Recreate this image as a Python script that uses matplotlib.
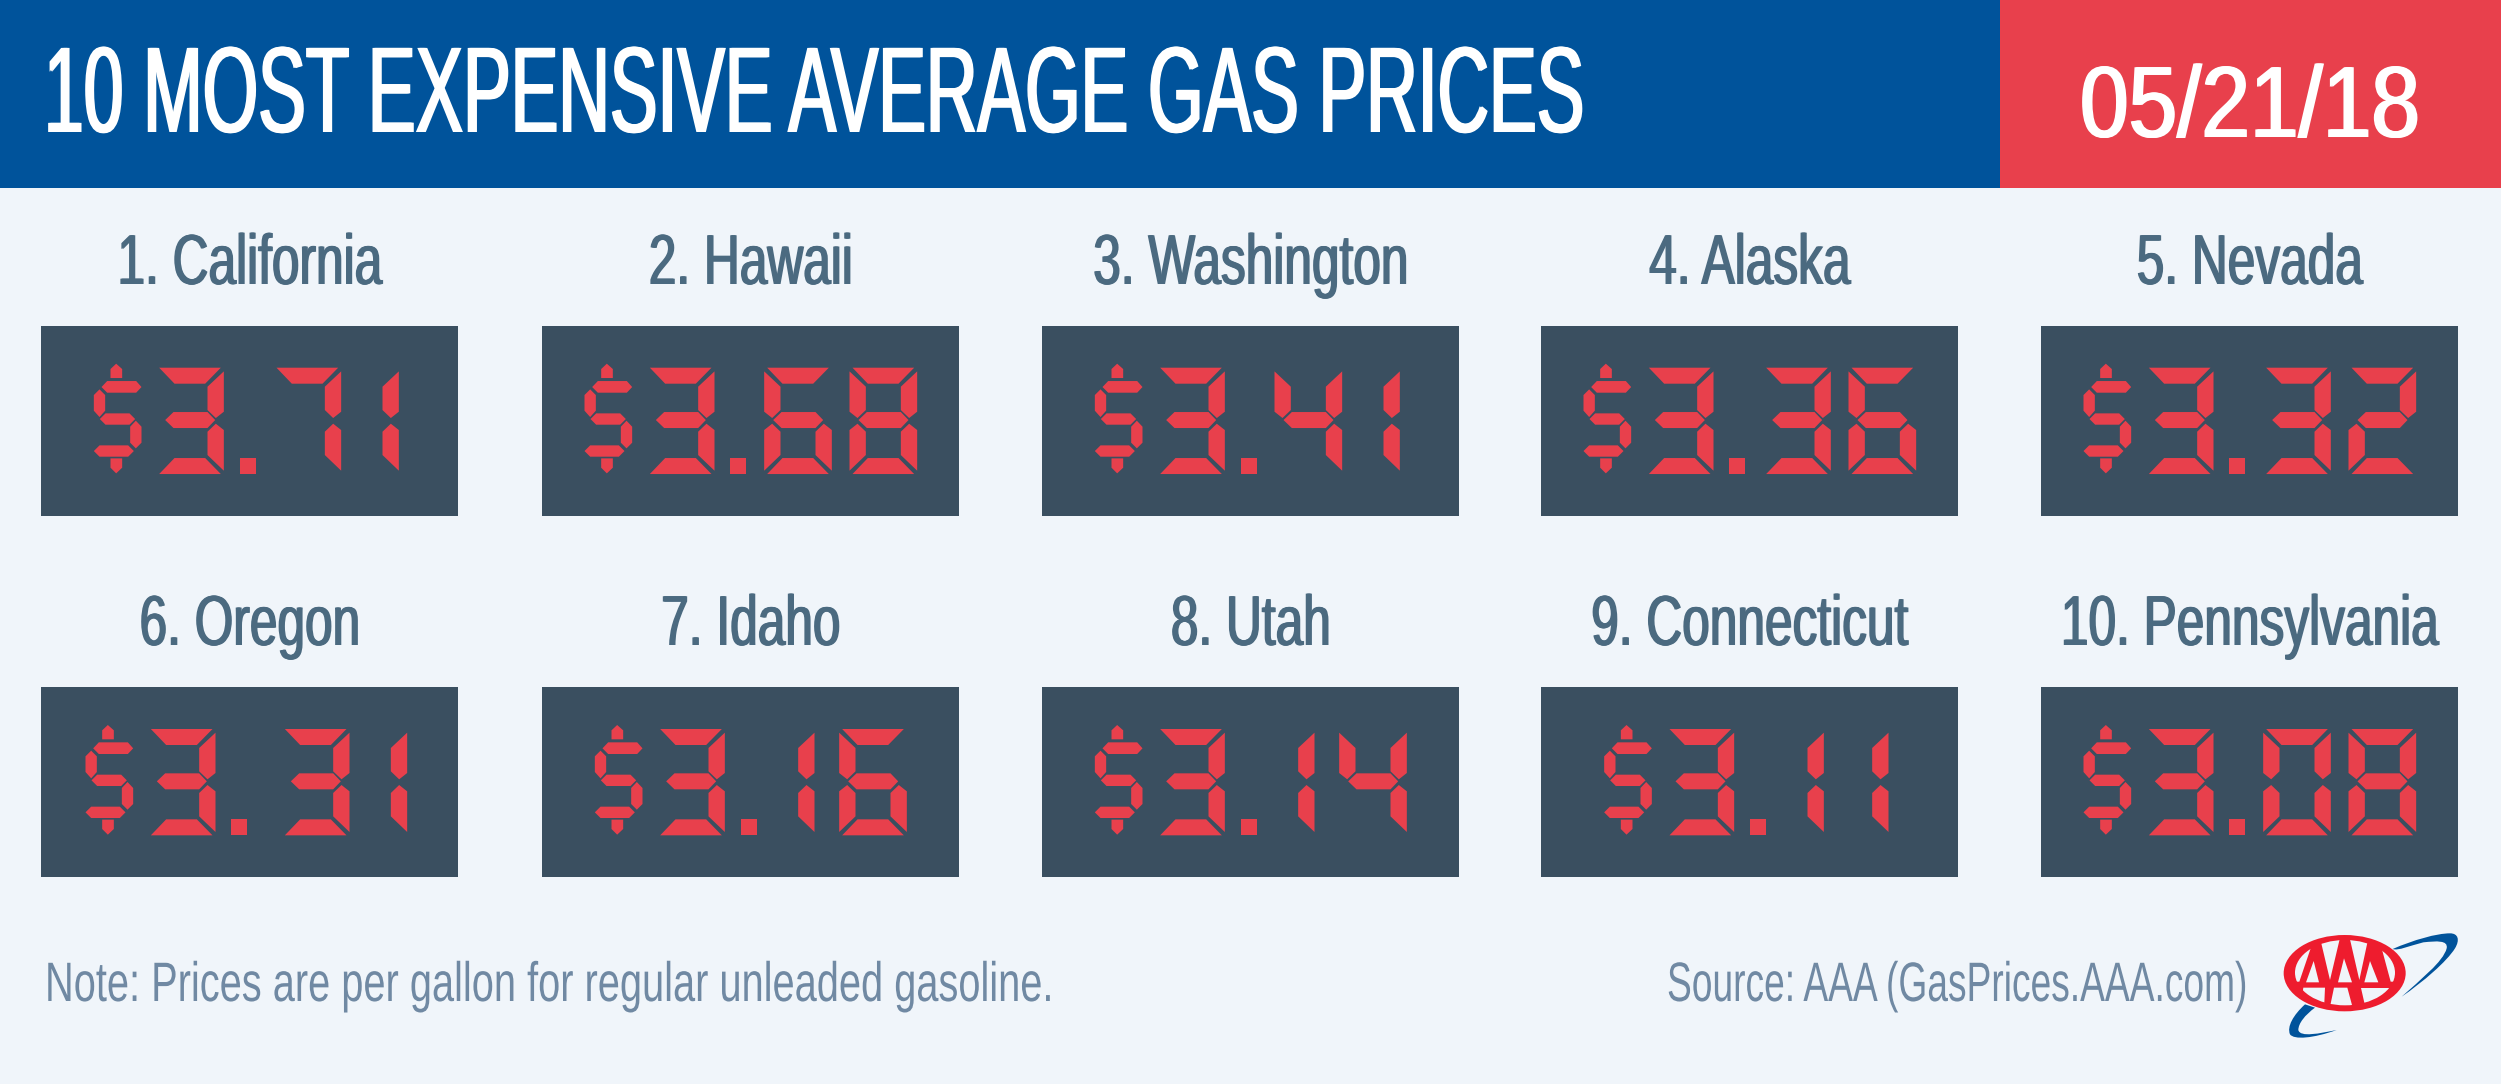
import matplotlib
matplotlib.use('Agg')
import matplotlib.pyplot as plt
from matplotlib.patches import Rectangle, Polygon, Ellipse, PathPatch
from matplotlib.path import Path
from matplotlib.patheffects import AbstractPathEffect
from matplotlib.transforms import Affine2D

title = '10 MOST EXPENSIVE AVERAGE GAS PRICES'
date = '05/21/18'
states = ['California', 'Hawaii', 'Washington', 'Alaska', 'Nevada',
          'Oregon', 'Idaho', 'Utah', 'Connecticut', 'Pennsylvania']
prices = [3.71, 3.68, 3.41, 3.36, 3.32, 3.31, 3.16, 3.14, 3.11, 3.08]
note = 'Note: Prices are per gallon for regular unleaded gasoline.'
source = 'Source: AAA (GasPrices.AAA.com)'

BG = '#F0F5FA'
BLUE = '#00539B'
RED = '#E8404C'
PANEL = '#3A4F60'
CITY = '#4B6A80'
SOFT = '#7089A3'
LOGO_RED = '#EE1C2E'
NARROW = ['Liberation Sans Narrow', 'Liberation Sans']

# seven segment shapes, measured at 3x, digit cell is 203 wide
SEGS = {
    'a': [(9, 0), (194, 0), (147, 48), (55, 48)],
    'b': [(154, 57), (203, 11), (203, 132), (179, 151), (154, 127)],
    'c': [(154, 192), (179, 168), (203, 187), (203, 309), (154, 262)],
    'd': [(9, 319), (55, 271), (147, 271), (194, 319)],
    'e': [(49, 192), (24, 168), (0, 187), (0, 309), (49, 262)],
    'f': [(49, 57), (0, 11), (0, 132), (24, 151), (49, 127)],
    'g': [(27, 157), (52, 133), (154, 133), (177, 157), (154, 181), (52, 181)],
}
DIGITS = {'0': 'abcdef', '1': 'bc', '2': 'abdeg', '3': 'abcdg', '4': 'bcfg',
          '5': 'acdfg', '6': 'acdefg', '7': 'abc', '8': 'abcdefg', '9': 'abcdfg'}
DOLLAR = [
    [(50, 43), (50, 16), (67, 0), (85, 16), (85, 43)],
    [(23, 70), (40, 52), (127, 52), (143, 70), (127, 87), (40, 87)],
    [(0, 94), (17, 77), (34, 94), (34, 141), (17, 160), (0, 141)],
    [(18, 166), (35, 149), (107, 149), (124, 166), (107, 183), (35, 183)],
    [(109, 189), (126, 171), (143, 189), (143, 237), (126, 254), (109, 237)],
    [(0, 262), (17, 245), (103, 245), (120, 262), (103, 279), (17, 279)],
    [(50, 284), (85, 284), (85, 312), (67, 329), (50, 312)],
]


class Squeeze(AbstractPathEffect):
    # narrows the text about its anchor, there is no condensed face to name
    def __init__(self, sx, cx, bold=0):
        self.sx = sx
        self.cx = cx
        self.bold = bold

    def draw_path(self, renderer, gc, tpath, affine, rgbFace=None):
        squeeze = Affine2D().translate(-self.cx, 0).scale(self.sx, 1).translate(self.cx, 0)
        # thicken only the upright strokes, as the condensed original has them
        offsets = [-self.bold, 0, self.bold] if self.bold else [0]
        for dx in offsets:
            renderer.draw_path(gc, tpath, affine + squeeze + Affine2D().translate(dx, 0), rgbFace)


def fit_text(t, width, anchor, bold=0):
    w = t.get_window_extent(fig.canvas.get_renderer()).width
    t.set_path_effects([Squeeze(width / w, anchor, bold)])


def advance(ch):
    return {'$': 187, '.': 96, '1': 194}.get(ch, 256)


def draw_price(price, box_x, box_y):
    s = '$%.2f' % price
    total = sum(advance(c) for c in s)
    if s.endswith('31'):
        total += 50
    pen = (1250 - total) / 2 + 28
    for i, c in enumerate(s):
        if c == '$':
            shapes = DOLLAR
            dy = -12
            dx = 0
        elif c == '.':
            shapes = [[(0, 271), (48, 271), (48, 319), (0, 319)]]
            dy = 0
            dx = -6
        else:
            shapes = [SEGS[k] for k in DIGITS[c]]
            dy = 0
            dx = -83 if c == '1' else 0
            if s[i:i + 2] == '31':
                pen += 50
        for shape in shapes:
            pts = [(box_x + (pen + dx + x) / 3, box_y + 41.7 + (y + dy) / 3) for x, y in shape]
            ax.add_patch(Polygon(pts, closed=True, fc=RED, ec='none'))
        pen += advance(c)


def logo_xy(pts):
    return [(2270 + x / 3, 925 + y / 3) for x, y in pts]


def draw_logo():
    top = [(368, 72), (430, 45), (500, 25), (540, 25), (565, 25), (570, 45), (555, 70),
           (530, 110), (460, 170), (395, 215), (450, 165), (520, 110), (530, 70),
           (535, 45), (500, 48), (460, 52), (420, 62), (385, 78), (368, 72)]
    low = [(105, 238), (70, 270), (50, 305), (60, 328), (72, 345), (130, 340), (200, 315),
           (150, 325), (90, 338), (85, 315), (85, 295), (105, 270), (135, 248)]
    for pts in [top, low]:
        codes = [Path.MOVETO] + [Path.CURVE4] * (len(pts) - 1) + [Path.CLOSEPOLY]
        path = Path(logo_xy(pts) + logo_xy(pts[:1]), codes)
        ax.add_patch(PathPatch(path, fc=BLUE, ec='none', zorder=3))

    ax.add_patch(Ellipse((2270 + 224 / 3, 925 + 144.5 / 3), 366 / 3, 229 / 3, fc=LOGO_RED, ec='none', zorder=4))
    inner = Ellipse((2270 + 225 / 3, 925 + 143 / 3), 300 / 3, 196 / 3, fc='none', ec='none', zorder=4)
    ax.add_patch(inner)
    windows = [
        [(122, 70), (88, 170), (60, 170), (60, 70)],
        [(148, 30), (212, 30), (180, 165)],
        [(237, 30), (297, 30), (268, 165)],
        [(335, 70), (362, 170), (395, 170), (395, 70)],
        [(131, 108), (108, 172), (147, 172)],
        [(222, 100), (204, 172), (246, 172)],
        [(300, 108), (283, 172), (325, 172)],
        [(100, 188), (165, 188), (162, 255), (90, 255)],
        [(192, 188), (232, 188), (250, 255), (178, 255)],
        [(272, 188), (360, 188), (360, 255), (288, 255)],
    ]
    for w in windows:
        p = Polygon(logo_xy(w), closed=True, fc=BG, ec='none', zorder=5)
        ax.add_patch(p)
        p.set_clip_path(inner)


fig = plt.figure(figsize=(25.01, 10.84), dpi=100, facecolor=BG)
ax = fig.add_axes([0, 0, 1, 1])
ax.set_xlim(0, 2501)
ax.set_ylim(1084, 0)
ax.axis('off')

ax.add_patch(Rectangle((0, 0), 2000, 187.5, fc=BLUE, ec='none'))
ax.add_patch(Rectangle((2000, 0), 501, 187.5, fc=RED, ec='none'))

t = ax.text(44, 132, title, color='white', fontsize=88, family=NARROW, va='baseline', ha='left')
fit_text(t, 1540, 44, bold=1.3)
t = ax.text(2250, 137, date, color='white', fontsize=73, family=NARROW, va='baseline', ha='center')
fit_text(t, 340, 2250, bold=1.3)

col_x = [41, 542, 1042, 1541, 2041]
row_y = [326, 687.3]
label_y = [284, 645]

probe = ax.text(0, 0, '1. California', fontsize=51, family=NARROW)
city_w = probe.get_window_extent(fig.canvas.get_renderer()).width
probe.remove()

for i, (state, price) in enumerate(zip(states, prices)):
    r, c = divmod(i, 5)
    ax.add_patch(Rectangle((col_x[c], row_y[r]), 417, 189.5, fc=PANEL, ec='none'))
    draw_price(price, col_x[c], row_y[r])
    cx = col_x[c] + 209
    t = ax.text(cx, label_y[r], '%d. %s' % (i + 1, state), color=CITY, fontsize=51,
                family=NARROW, va='baseline', ha='center')
    t.set_path_effects([Squeeze(265 / city_w, cx, bold=0.9)])

t = ax.text(45, 1001, note, color=SOFT, fontsize=40, family=NARROW, va='baseline', ha='left')
fit_text(t, 1008, 45)
t = ax.text(1667, 1001, source, color=SOFT, fontsize=40, family=NARROW, va='baseline', ha='left')
fit_text(t, 580, 1667)

draw_logo()

fig.savefig('out.png', dpi=100, facecolor=BG)
